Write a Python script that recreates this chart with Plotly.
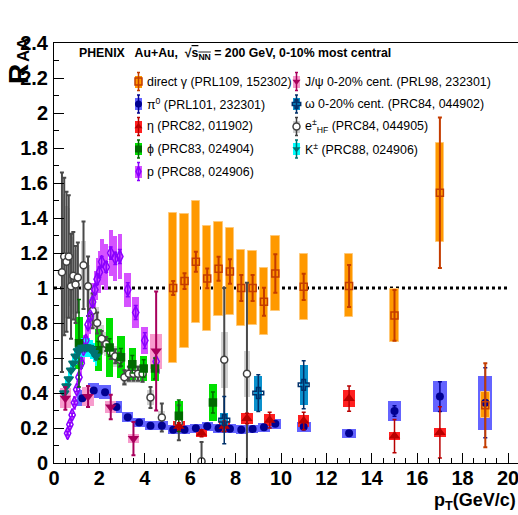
import plotly.graph_objects as go

FONT = "Liberation Sans, Arial, sans-serif"

# ---------------- data ----------------
# direct photons
gam_x = [5.25, 5.75, 6.25, 6.75, 7.25, 7.75, 8.25, 8.75, 9.25, 9.75, 11.0, 13.0, 15.0, 17.0, 19.0]
gam_y = [1.00, 1.04, 1.15, 1.055, 1.11, 1.095, 1.00, 1.00, 0.922, 1.083, 1.007, 1.012, 0.843, 1.545, 0.33]
gam_stat = [0.04, 0.045, 0.057, 0.056, 0.068, 0.07, 0.074, 0.074, 0.08, 0.11, 0.075, 0.12, 0.145, 0.43, 0.24]
gam_sys = [0.43, 0.385, 0.35, 0.30, 0.27, 0.25, 0.215, 0.21, 0.19, 0.215, 0.19, 0.18, 0.153, 0.284, 0.074]

# neutral pions
pi0_x = [1.25, 1.75, 2.25, 2.75, 3.25, 3.75, 4.25, 4.75, 5.25, 5.75, 6.25, 6.75, 7.25, 7.75,
         8.25, 8.75, 9.25, 9.75, 11.0, 13.0, 15.0, 17.0, 19.0]
pi0_y = [0.37, 0.415, 0.405, 0.32, 0.262, 0.232, 0.213, 0.213, 0.19, 0.19, 0.198, 0.21, 0.198, 0.196,
         0.19, 0.194, 0.204, 0.225, 0.207, 0.17, 0.297, 0.38, 0.345]
pi0_stat = [0.004, 0.004, 0.004, 0.004, 0.004, 0.004, 0.004, 0.004, 0.004, 0.004, 0.005, 0.005, 0.005,
            0.006, 0.006, 0.007, 0.008, 0.009, 0.012, 0.015, 0.03, 0.085, 0.2]
pi0_sys = [0.045, 0.045, 0.042, 0.036, 0.03, 0.028, 0.027, 0.027, 0.025, 0.025, 0.025, 0.026, 0.025,
           0.025, 0.025, 0.025, 0.026, 0.028, 0.028, 0.025, 0.055, 0.088, 0.155]
pi0_w = [0.5, 0.5, 0.5, 0.5, 0.5, 0.5, 0.5, 0.5, 0.5, 0.5, 0.5, 0.5, 0.5, 0.5,
         0.5, 0.5, 0.5, 0.5, 0.6, 0.6, 0.6, 0.6, 0.6]

# eta mesons
eta_x = [5.5, 6.5, 7.5, 8.5, 9.5, 11.0, 13.0, 15.0, 17.0]
eta_y = [0.21, 0.17, 0.21, 0.255, 0.245, 0.24, 0.368, 0.154, 0.175]
eta_stat = [0.02, 0.02, 0.03, 0.03, 0.045, 0.05, 0.072, 0.095, 0.146]
eta_sys = [0.03, 0.022, 0.03, 0.03, 0.034, 0.034, 0.05, 0.022, 0.024]

# phi mesons
phi_x = [1.1, 1.95, 2.45, 2.95, 3.45, 3.95, 4.45, 5.5, 7.0]
phi_y = [0.685, 0.645, 0.66, 0.605, 0.565, 0.54, 0.54, 0.27, 0.346]
phi_stat = [0.25, 0.05, 0.05, 0.05, 0.05, 0.05, 0.06, 0.09, 0.06]
phi_sys = [0.15, 0.12, 0.17, 0.12, 0.09, 0.07, 0.07, 0.085, 0.104]

# protons
p_x = [0.6, 0.7, 0.8, 0.9, 1.0, 1.1, 1.2, 1.3, 1.4, 1.5, 1.6, 1.7, 1.8, 1.9, 2.0,
       2.1, 2.3, 2.5, 2.7, 2.9, 3.25, 3.6, 4.0, 4.5]
p_y = [0.17, 0.22, 0.275, 0.345, 0.42, 0.49, 0.57, 0.65, 0.70, 0.79, 0.84, 0.92, 0.99, 1.05, 1.09,
       1.15, 1.12, 1.20, 1.17, 1.18, 0.99, 0.86, 0.70, 0.58]
p_stat = [0.01, 0.01, 0.01, 0.01, 0.012, 0.012, 0.015, 0.015, 0.02, 0.02, 0.02, 0.025, 0.025, 0.03, 0.03,
          0.03, 0.03, 0.035, 0.035, 0.04, 0.04, 0.04, 0.045, 0.05]
p_sys = [0.03, 0.03, 0.035, 0.04, 0.05, 0.06, 0.07, 0.08, 0.09, 0.10, 0.10, 0.11, 0.11, 0.12, 0.12,
         0.13, 0.13, 0.13, 0.13, 0.13, 0.097, 0.09, 0.077, 0.07]
p_w = [0.1, 0.1, 0.1, 0.1, 0.1, 0.1, 0.1, 0.1, 0.1, 0.1, 0.1, 0.1, 0.1, 0.1, 0.1,
       0.18, 0.18, 0.18, 0.18, 0.18, 0.3, 0.3, 0.3, 0.3]

# J/psi, 0-20% centrality
jpsi_x = [0.5, 1.5, 2.5, 3.5, 4.5]
jpsi_y = [0.37, 0.38, 0.32, 0.14, 0.64]
jpsi_stat = [0.065, 0.06, 0.07, 0.095, 0.34]
jpsi_sys = [0.057, 0.055, 0.035, 0.025, 0.10]

# omega, 0-20% centrality
omg_x = [7.5, 9.0, 11.0]
omg_y = [0.245, 0.40, 0.447]
omg_stat = [0.135, 0.105, 0.137]
omg_sys = [0.04, 0.10, 0.115]

# heavy-flavour electrons
ehf_x = [0.35, 0.45, 0.55, 0.65, 0.75, 0.85, 0.95, 1.05, 1.3, 1.5, 1.7, 1.9, 2.1, 2.3, 2.5, 2.7,
         2.9, 3.1, 3.3, 3.5, 3.7, 3.9, 4.25, 4.75, 5.5, 6.5, 7.5, 8.5]
ehf_y = [1.09, 1.18, 1.15, 1.18, 1.01, 1.07, 1.02, 1.06, 1.13, 1.01, 0.87, 0.80, 0.71, 0.68, 0.635, 0.61,
         0.59, 0.49, 0.51, 0.51, 0.51, 0.51, 0.375, 0.26, 0.23, 0.01, 0.59, 0.51]
ehf_stat = [0.57, 0.45, 0.40, 0.35, 0.30, 0.25, 0.22, 0.20, 0.25, 0.17, 0.10, 0.06, 0.045, 0.04, 0.04, 0.04,
            0.04, 0.04, 0.04, 0.04, 0.04, 0.045, 0.06, 0.08, 0.10, 0.11, 0.41, 0.52]
ehf_sys = [0.40, 0.36, 0.32, 0.28, 0.25, 0.22, 0.20, 0.18, 0.14, 0.12, 0.10, 0.09, 0.08, 0.07, 0.06, 0.06,
           0.06, 0.05, 0.05, 0.05, 0.05, 0.05, 0.045, 0.04, 0.04, 0.02, 0.16, 0.13]
ehf_w = [0.1, 0.1, 0.1, 0.1, 0.1, 0.1, 0.1, 0.1, 0.2, 0.2, 0.2, 0.2, 0.2, 0.2, 0.2, 0.2,
         0.2, 0.2, 0.2, 0.2, 0.2, 0.2, 0.3, 0.3, 0.3, 0.3, 0.3, 0.3]

# charged kaons
k_x = [0.45, 0.55, 0.65, 0.75, 0.85, 0.95, 1.05, 1.15, 1.25, 1.35, 1.45, 1.55, 1.65, 1.75, 1.85]
k_y = [0.40, 0.44, 0.48, 0.53, 0.57, 0.61, 0.64, 0.65, 0.66, 0.66, 0.66, 0.66, 0.65, 0.63, 0.61]
k_stat = [0.01, 0.01, 0.01, 0.01, 0.01, 0.01, 0.01, 0.012, 0.012, 0.012, 0.015, 0.015, 0.015, 0.02, 0.02]
k_sys = [0.045, 0.045, 0.05, 0.05, 0.05, 0.05, 0.055, 0.055, 0.055, 0.055, 0.055, 0.055, 0.055, 0.055, 0.055]

# ---------------- figure ----------------
fig = go.Figure()


def sys_boxes(x, y, sys, width, color, edge=None):
    fig.add_trace(go.Bar(
        x=x, y=[2 * s for s in sys], base=[v - s for v, s in zip(y, sys)], width=width,
        marker=dict(color=color, line=dict(width=1 if edge else 0, color=edge or color)),
        hoverinfo="skip", showlegend=False))


def points(x, y, err, symbol, size, color, ecolor, fill=None, ethick=1.5, lw=1.5):
    fig.add_trace(go.Scatter(
        x=x, y=y, mode="markers",
        marker=dict(symbol=symbol, size=size, color=fill if fill else color,
                    line=dict(color=color, width=lw)),
        error_y=dict(type="data", array=err, color=ecolor, thickness=ethick, width=2),
        hoverinfo="skip", showlegend=False))


# systematic-uncertainty boxes
C_GREY, C_PURP, C_GREEN, C_CYAN = "#d2d2d2", "#d552ff", "#00e000", "#00ffff"
C_BLUE, C_PINK, C_RED, C_TEAL, C_ORNG = "#6464ff", "#f79ccd", "#ff2020", "#0a90cc", "#ff9900"

sys_boxes(ehf_x, ehf_y, ehf_sys, ehf_w, C_GREY)
sys_boxes(p_x, p_y, p_sys, p_w, C_PURP)
sys_boxes(phi_x, phi_y, phi_sys, 0.33, C_GREEN)
sys_boxes(k_x, k_y, k_sys, 0.1, C_CYAN)
sys_boxes(pi0_x, pi0_y, pi0_sys, pi0_w, C_BLUE)
sys_boxes(jpsi_x, jpsi_y, jpsi_sys, 0.5, C_PINK)
sys_boxes(eta_x, eta_y, eta_sys, 0.5, C_RED)
sys_boxes(omg_x, omg_y, omg_sys, 0.35, C_TEAL)
sys_boxes(gam_x, gam_y, gam_sys, 0.37, C_ORNG, edge="#ffc877")

# points with statistical error bars
points(ehf_x, ehf_y, ehf_stat, "circle", 7, "#404040", "#4a4a4a", fill="white", ethick=2)
points(p_x, p_y, p_stat, "diamond-tall-open", 9, "#8a00ff", "#8a00ff")
points(phi_x, phi_y, phi_stat, "square", 7, "#006a00", "#006a00")
points(k_x, k_y, k_stat, "triangle-down", 8, "#007272", "#007272")
points(pi0_x, pi0_y, pi0_stat, "circle", 8, "#000090", "#000090", lw=0)
points(jpsi_x, jpsi_y, jpsi_stat, "triangle-down", 10, "#a8005c", "#a8005c", ethick=2, lw=0)
points(eta_x, eta_y, eta_stat, "triangle-up", 10, "#b80000", "#b80000", lw=0)
points(omg_x, omg_y, omg_stat, "cross-open", 9, "#00306a", "#00306a")
points(gam_x, gam_y, gam_stat, "square-open", 7, "#c43c00", "#c43c00", ethick=2)

# ---------------- legend (pixel overlay axes) ----------------
LX, RX = 138.5, 296.5
leg = [
    (LX, 81.5, C_ORNG, "square-open", "#c43c00", "direct γ (PRL109, 152302)"),
    (LX, 104.0, C_BLUE, "circle", "#000090", "π<sup>0</sup> (PRL101, 232301)"),
    (LX, 126.5, C_RED, "triangle-up", "#b80000", "η (PRC82, 011902)"),
    (LX, 149.0, C_GREEN, "square", "#006a00", "ϕ (PRC83, 024904)"),
    (LX, 171.5, C_PURP, "diamond-tall-open", "#8a00ff", "p (PRC88, 024906)"),
    (RX, 81.5, C_PINK, "triangle-down", "#a8005c", "J/ψ 0-20% cent. (PRL98, 232301)"),
    (RX, 104.0, C_TEAL, "cross-open", "#00306a", "ω 0-20% cent. (PRC84, 044902)"),
    (RX, 126.5, C_GREY, "circle", "#404040", "e<sup>±</sup><sub>HF</sub> (PRC84, 044905)"),
    (RX, 149.0, C_CYAN, "triangle-down", "#007272", "K<sup>±</sup> (PRC88, 024906)"),
]
fig.add_trace(go.Bar(
    x=[e[0] for e in leg], y=[12] * len(leg), base=[e[1] - 6 for e in leg], width=7,
    marker=dict(color=[e[2] for e in leg], line=dict(width=0)),
    xaxis="x2", yaxis="y2", hoverinfo="skip", showlegend=False))
for cx, cy, bc, sym, mc, txt in leg:
    fig.add_trace(go.Scatter(
        x=[cx], y=[cy], mode="markers", xaxis="x2", yaxis="y2",
        marker=dict(symbol=sym, size=7, color="white" if sym == "circle" and mc == "#404040" else mc,
                    line=dict(color=mc, width=1.5 if "open" in sym or mc == "#404040" else 0)),
        error_y=dict(type="constant", value=9, color=mc, thickness=1.5, width=1.5),
        hoverinfo="skip", showlegend=False))

# ---------------- layout ----------------
L, R, T, B = 54, 518, 43, 463


def px(xp):
    return (xp - L) / (R - L)


def py(yp):
    return (B - yp) / (B - T)


ann = []
for cx, cy, bc, sym, mc, txt in leg:
    ann.append(dict(x=px(cx + 6), y=py(cy), xref="paper", yref="paper", xanchor="left",
                    yanchor="middle", text=txt, showarrow=False,
                    font=dict(family=FONT, size=12.4, color="black")))
ann.append(dict(x=px(77), y=py(54), xref="paper", yref="paper", xanchor="left", yanchor="middle",
                text="<b>PHENIX   Au+Au,  √<span style='text-decoration:overline'>s<sub>NN</sub></span>"
                     " = 200 GeV, 0-10% most central</b>",
                showarrow=False, font=dict(family=FONT, size=12.3, color="black")))
# y-axis title R_AA, written vertically: large R with the AA index set beside it
ann.append(dict(x=px(19), y=py(74), xref="paper", yref="paper", xanchor="center", yanchor="middle",
                text="<b>R</b>", textangle=-90, showarrow=False,
                font=dict(family=FONT, size=28, color="black")))
ann.append(dict(x=px(24), y=py(49), xref="paper", yref="paper", xanchor="center", yanchor="middle",
                text="<b>AA</b>", textangle=-90, showarrow=False,
                font=dict(family=FONT, size=17, color="black")))
ann.append(dict(x=px(518), y=py(488), xref="paper", yref="paper", xanchor="right", yanchor="top",
                text="<b>p<sub>T</sub>(GeV/c)</b>", showarrow=False,
                font=dict(family=FONT, size=18, color="black")))

tickfont = dict(family=FONT, size=20, color="black", weight="bold")
fig.update_layout(
    width=518, height=515, template="none",
    margin=dict(l=L, r=518 - R, t=T, b=515 - B, pad=0),
    paper_bgcolor="white", plot_bgcolor="white",
    barmode="overlay", bargap=0, showlegend=False,
    xaxis=dict(range=[0, (R - L) / 22.7], tick0=0, dtick=2, ticks="inside", ticklen=10,
               tickwidth=1, tickcolor="black", showline=True, linecolor="black", linewidth=1,
               mirror=True, showgrid=False, zeroline=False, tickfont=tickfont,
               ticklabeloverflow="allow", ticklabelstandoff=-3,
               minor=dict(dtick=0.5, ticks="inside", ticklen=5, tickcolor="black", showgrid=False)),
    yaxis=dict(range=[0, 2.4], tick0=0, dtick=0.2, ticks="inside", ticklen=10, tickwidth=1,
               tickcolor="black", showline=True, linecolor="black", linewidth=1,
               showgrid=False, zeroline=False, tickfont=tickfont, ticklabelstandoff=1,
               ticklabeloverflow="allow",
               minor=dict(dtick=0.1, ticks="inside", ticklen=5, tickcolor="black", showgrid=False)),
    xaxis2=dict(overlaying="x", range=[L, R], visible=False, anchor="y2"),
    yaxis2=dict(overlaying="y", range=[B, T], visible=False, anchor="x2"),
    annotations=ann,
    shapes=[dict(type="line", xref="x", yref="y", x0=0, x1=20, y0=1, y1=1, layer="below",
                 line=dict(color="black", width=3, dash="dot"))],
)

fig.write_html("out.html")
